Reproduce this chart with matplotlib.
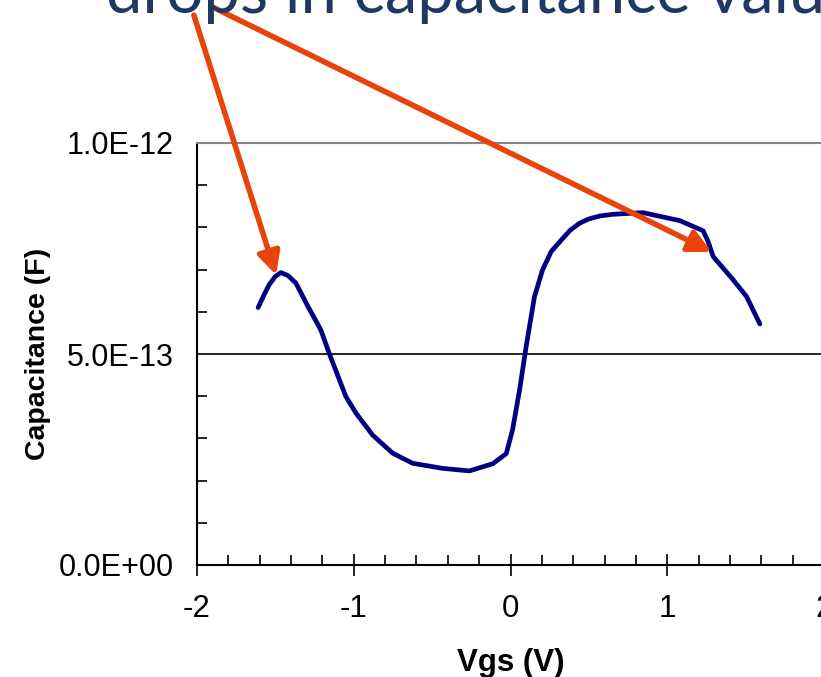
import matplotlib.pyplot as plt
from matplotlib.ticker import MultipleLocator, FixedLocator, FuncFormatter

# --- data ---
vgs = [-1.610, -1.575, -1.540, -1.500, -1.465, -1.420, -1.369, -1.297, -1.210,
       -1.157, -1.050, -0.986, -0.880, -0.752, -0.624, -0.433, -0.262, -0.113,
       -0.027, 0.013, 0.058, 0.100, 0.153, 0.204, 0.260, 0.324, 0.380, 0.441,
       0.500, 0.569, 0.652, 0.845, 1.080, 1.229, 1.261, 1.293, 1.420, 1.506,
       1.591]
cap_pf = [0.610, 0.638, 0.664, 0.684, 0.693, 0.686, 0.668, 0.616, 0.557,
          0.502, 0.399, 0.360, 0.308, 0.265, 0.241, 0.229, 0.223, 0.240,
          0.264, 0.320, 0.415, 0.518, 0.636, 0.699, 0.743, 0.770, 0.793, 0.810,
          0.820, 0.827, 0.831, 0.835, 0.816, 0.792, 0.766, 0.731, 0.676, 0.636,
          0.571]
cap = [c * 1e-12 for c in cap_pf]

title_text = "drops in capacitance values"
arrow_tips = [(-1.495, 0.687e-12), (1.284, 0.742e-12)]
arrow_tails = [(-2.02, 1.303e-12), (-1.90, 1.322e-12)]

plt.rcParams['font.family'] = ['Liberation Sans', 'DejaVu Sans']
plt.rcParams['axes.unicode_minus'] = False

fig = plt.figure(figsize=(8.21, 6.77), dpi=100)
ax = fig.add_axes([197 / 821, 112 / 677, 627 / 821, 422 / 677])

ax.plot(vgs, cap, color='#000080', lw=3.4, solid_capstyle='round',
        solid_joinstyle='round')

ax.set_xlim(-2, 2)
ax.set_ylim(0, 1e-12)
ax.axhline(5e-13, color='black', lw=1.2, zorder=0)

ax.xaxis.set_major_locator(MultipleLocator(1))
ax.xaxis.set_minor_locator(MultipleLocator(0.2))
ax.yaxis.set_major_locator(FixedLocator([0, 5e-13, 1e-12]))
ax.yaxis.set_minor_locator(MultipleLocator(1e-13))
ax.yaxis.set_major_formatter(FuncFormatter(lambda v, p: f"{v:.1E}".replace("E-0", "E-")))

ax.tick_params(axis='x', which='major', direction='inout', length=16, width=1.2,
               labelsize=22.5, pad=13)
ax.tick_params(axis='x', which='minor', direction='in', length=7, width=1.2)
ax.tick_params(axis='y', which='major', direction='in', length=0, labelsize=22, pad=17)
ax.tick_params(axis='y', which='minor', direction='in', length=7, width=1.2)

for s in ['left', 'bottom']:
    ax.spines[s].set_linewidth(1.5)
ax.spines['top'].set_color('#888888')
ax.spines['top'].set_linewidth(1.5)
ax.spines['right'].set_visible(False)

ax.set_xlabel("Vgs (V)", fontsize=22.5, fontweight='bold', labelpad=17)
ax.set_ylabel("Capacitance (F)", fontsize=20.5, fontweight='bold', labelpad=5)

# slide title, cut off at the top edge
fig.text(106 / 821, 1 - 13 / 677, title_text, fontsize=47, color='#1F3864',
         family=['Lato', 'DejaVu Sans'], ha='left', va='baseline')

for tail, tip in zip(arrow_tails, arrow_tips):
    ax.annotate("", xy=tip, xytext=tail, xycoords='data', textcoords='data',
                annotation_clip=False,
                arrowprops=dict(arrowstyle='-|>', color='#E8440A', lw=4,
                                mutation_scale=34, shrinkA=0, shrinkB=0))

plt.savefig("out.png", dpi=100)
